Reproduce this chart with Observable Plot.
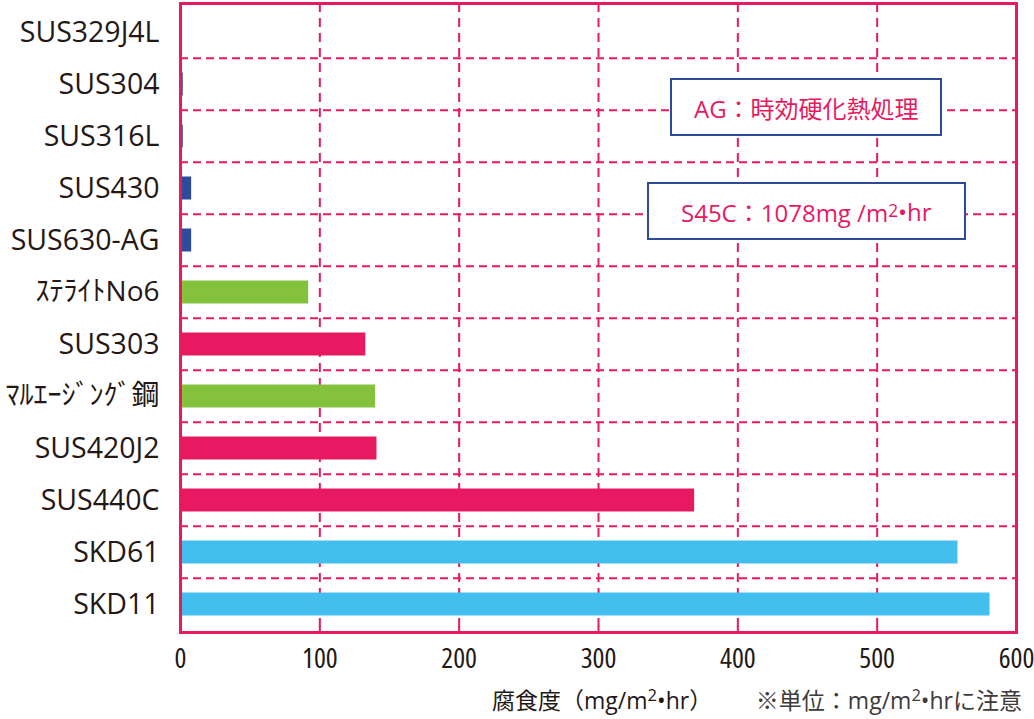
<!DOCTYPE html>
<html><head><meta charset="utf-8">
<script src="https://cdn.jsdelivr.net/npm/d3@7"></script>
<script src="https://cdn.jsdelivr.net/npm/@observablehq/plot@0.6"></script>
<style>
body{margin:0;background:#fff;}
#wrap{position:relative;width:1034px;height:719px;overflow:hidden;font-family:"Open Sans","Noto Sans CJK JP",sans-serif;color:#231815;}
#wrap svg{font-weight:400;}
#wrap svg g[aria-label="x-axis tick label"]{font-stretch:80%;}
.note{position:absolute;box-sizing:border-box;border:2px solid #2d4a9c;background:#fff;color:#e71a61;display:flex;align-items:center;justify-content:center;font-size:24px;font-weight:400;font-stretch:92%;font-family:"Open Sans","Noto Sans CJK JP",sans-serif;white-space:nowrap;}
.note sup,.cap sup{font-size:0.72em;vertical-align:0.5em;line-height:0;}
.cap{position:absolute;top:686px;font-size:23px;line-height:28px;font-weight:400;font-stretch:92%;white-space:nowrap;}
</style></head>
<body><div id="wrap"></div>
<script>
// ---- data ----
const materials = ["SUS329J4L","SUS304","SUS316L","SUS430","SUS630-AG","ｽﾃﾗｲﾄNo6","SUS303","ﾏﾙｴｰｼﾞﾝｸﾞ鋼","SUS420J2","SUS440C","SKD61","SKD11"];
const corrosion = [0, 2, 2, 8, 8, 92, 133, 140, 141, 369, 558, 581];
const groups = ["A","A","A","A","A","B","C","B","C","C","D","D"];
const groupNames = ["A","B","C","D"];
const groupColors = ["#2d4a9c","#84c13c","#e71a61","#42bfec"];
const xTicks = [0, 100, 200, 300, 400, 500, 600];
const gridX = [100, 200, 300, 400, 500];
const noteTexts = ["AG：時効硬化熱処理", "S45C：1078mg /m<sup>2</sup>•hr"];
const noteX1 = [352, 335];
const noteX2 = [547, 564];
const noteAfter = ["SUS304", "SUS430"]; // box centred on boundary below this row
const captionLeft = "腐食度（mg/m<sup>2</sup>•hr）";
const captionRight = "※単位：mg/m<sup>2</sup>•hrに注意";

const data = materials.map((m, i) => ({material: m, value: corrosion[i], group: groups[i]}));
const pink = "#e8195f";
const W = 1034, H = 685, mT = 3, mB = 53;
const band = (H - mT - mB) / materials.length;
const isKana = (s) => /[\uFF61-\uFF9F]/.test(s);

const chart = Plot.plot({
  width: W, height: H,
  marginLeft: 180, marginRight: 18, marginTop: mT, marginBottom: mB,
  style: {fontFamily: '"Open Sans","Noto Sans CJK JP",sans-serif', color: "#231815", background: "#fff"},
  x: {domain: [0, 600], label: null},
  y: {domain: materials, padding: 0, label: null},
  color: {domain: groupNames, range: groupColors},
  marks: [
    Plot.ruleX(gridX, {stroke: pink, strokeWidth: 2, strokeDasharray: "9,6"}),
    Plot.ruleY(materials.slice(1), {stroke: pink, strokeWidth: 2, strokeDasharray: "8,5", dy: -band / 2}),
    Plot.barX(data, {x: "value", y: "material", fill: "group", insetTop: 14.5, insetBottom: 14.5}),
    Plot.axisY({tickSize: 0, tickPadding: 21, fontSize: (d) => isKana(d) ? 28 : 28.5, fill: "#231815"}),
    Plot.axisX({ticks: xTicks, tickSize: 6, dy: -6, stroke: pink, strokeWidth: 2, tickFormat: () => ""}),
    Plot.axisX({ticks: xTicks, tickSize: 0, tickPadding: 16, fontSize: 28, fill: "#231815"}),
    Plot.frame({stroke: pink, strokeWidth: 3})
  ]
});
const wrap = document.getElementById("wrap");
wrap.appendChild(chart);

const xs = chart.scale("x");
const ys = chart.scale("y");
noteTexts.forEach((t, i) => {
  const k = materials.indexOf(noteAfter[i]) + 1;
  const yb = ys.range[0] + k * ys.bandwidth;
  const d = document.createElement("div");
  d.className = "note";
  const x1 = xs.apply(noteX1[i]), x2 = xs.apply(noteX2[i]);
  d.style.left = x1 + "px";
  d.style.width = (x2 - x1) + "px";
  d.style.top = (yb - 29) + "px";
  d.style.height = "58px";
  d.innerHTML = t;
  wrap.appendChild(d);
});
const c1 = document.createElement("div");
c1.className = "cap"; c1.style.left = "492px"; c1.innerHTML = captionLeft;
const c2 = document.createElement("div");
c2.className = "cap"; c2.style.right = "12px"; c2.style.color = "#3e3a39"; c2.innerHTML = captionRight;
wrap.appendChild(c1); wrap.appendChild(c2);
</script>
</body></html>
